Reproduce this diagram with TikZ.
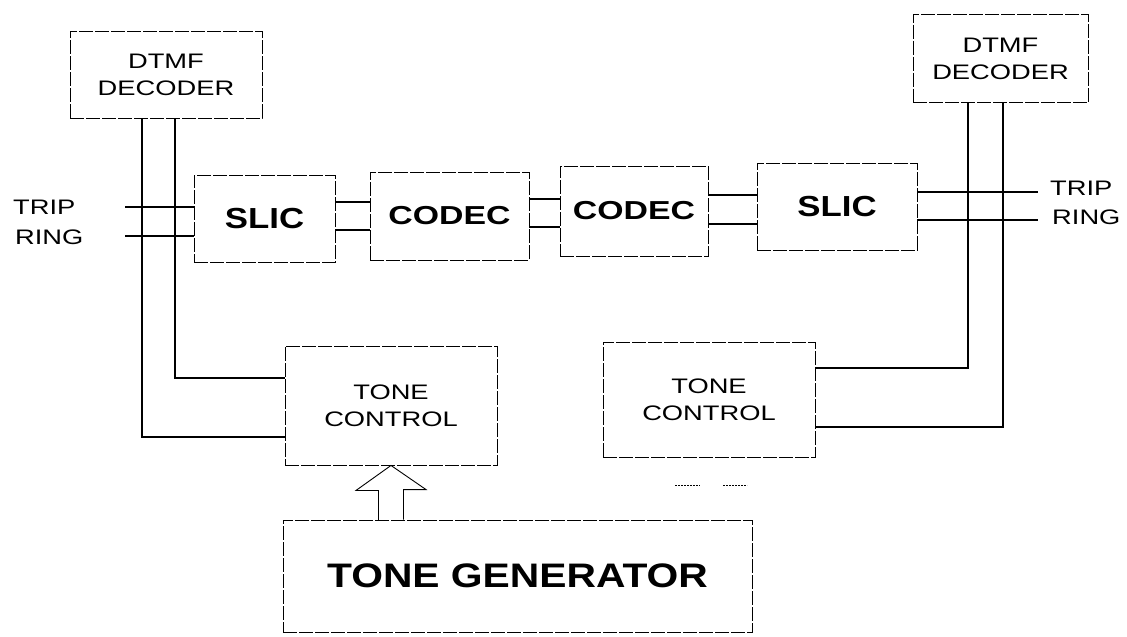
\documentclass[tikz,border=0pt]{standalone}
\usepackage{fontspec}
\setmainfont[FakeStretch=1.3]{Liberation Sans}
\newfontfamily\slimfont[FakeStretch=1.2]{Liberation Sans}
\begin{document}
\begin{tikzpicture}[x=1pt,y=-1pt,
  box/.style={draw, line width=0.9pt, dash pattern=on 14pt off 2pt, inner sep=0pt, align=center},
  wire/.style={line width=1.3pt},
  small/.style={font=\fontsize{21}{27}\selectfont},
  label/.style={font=\fontsize{21}{27}\selectfont, anchor=west, inner sep=0pt}]
\useasboundingbox (0,0) rectangle (1127,637);
% boxes
\node[box, small, minimum width=192pt, minimum height=87pt] (dtmfL) at (166,74.5) {DTMF\\DECODER};
\node[box, small, minimum width=175pt, minimum height=88pt] (dtmfR) at (1000.5,58.5) {DTMF\\DECODER};
\node[box, font=\slimfont\fontsize{29}{32}\selectfont\bfseries, minimum width=141pt, minimum height=87pt] (slicL) at (264.5,218.5) {SLIC};
\node[box, font=\fontsize{26}{30}\selectfont\bfseries, minimum width=159pt, minimum height=88pt] (codecL) at (449.5,216) {CODEC};
\node[box, font=\fontsize{26}{30}\selectfont\bfseries, minimum width=148pt, minimum height=90pt] (codecR) at (634,211) {CODEC};
\node[box, font=\slimfont\fontsize{29}{32}\selectfont\bfseries, minimum width=160pt, minimum height=87pt] (slicR) at (837,206.5) {SLIC};
\node[box, small, minimum width=212pt, minimum height=119pt] (tcL) at (391,405.5) {TONE\\CONTROL};
\node[box, small, minimum width=212pt, minimum height=115pt] (tcR) at (709,399.5) {TONE\\CONTROL};
\node[box, font=\slimfont\fontsize{34}{40}\selectfont\bfseries, minimum width=469pt, minimum height=112pt] (tg) at (517.5,576) {TONE GENERATOR};
% labels
\node[label] (tripL) at (13,207) {TRIP};
\node[label] (ringL) at (15,237) {RING};
\node[label] (tripR) at (1050,188) {TRIP};
\node[label] (ringR) at (1052,217) {RING};
% line ends
\coordinate (tLend) at (125,207);
\coordinate (rLend) at (125,236);
\coordinate (tRend) at (1038,192);
\coordinate (rRend) at (1038,220);
% trip/ring wires
\draw[wire] (tLend) -- (tLend -| slicL.west);
\draw[wire] (rLend) -- (rLend -| slicL.west);
\draw[wire] (tRend -| slicR.east) -- (tRend);
\draw[wire] (rRend -| slicR.east) -- (rRend);
% slic-codec-codec-slic
\draw[wire] ([yshift=16.5pt]slicL.east) -- ([yshift=16.5pt]slicL.east -| codecL.west);
\draw[wire] ([yshift=-11.5pt]slicL.east) -- ([yshift=-11.5pt]slicL.east -| codecL.west);
\draw[wire] ([yshift=17pt]codecL.east) -- ([yshift=17pt]codecL.east -| codecR.west);
\draw[wire] ([yshift=-11pt]codecL.east) -- ([yshift=-11pt]codecL.east -| codecR.west);
\draw[wire] ([yshift=11.5pt]slicR.west -| codecR.east) -- ([yshift=11.5pt]slicR.west);
\draw[wire] ([yshift=-17.5pt]slicR.west -| codecR.east) -- ([yshift=-17.5pt]slicR.west);
% dtmf to tone control
\draw[wire] ([xshift=-24pt]dtmfL.south) |- ([yshift=-31.5pt]tcL.west);
\draw[wire] ([xshift=9pt]dtmfL.south) |- ([yshift=27.5pt]tcL.west);
\draw[wire] ([xshift=-32.5pt]dtmfR.south) |- ([yshift=31.5pt]tcR.east);
\draw[wire] ([xshift=2.5pt]dtmfR.south) |- ([yshift=-27.5pt]tcR.east);
% hollow arrow
\coordinate (tip) at (tcL.south);
\coordinate (tail) at (tip |- tg.north);
\draw[line width=0.9pt, line join=miter] ([xshift=12.5pt]tail) -- ++(0,-30) -- ++(22.5,0) -- (tip) -- ++(-35,25) -- ++(22.5,0) -- ++(0,30);
% faint marks
\draw[line width=0.8pt, dash pattern=on 2pt off 1pt] (675,485) -- (700,485);
\draw[line width=0.8pt, dash pattern=on 2pt off 1pt] (723,485) -- (747,485);
\end{tikzpicture}
\end{document}
